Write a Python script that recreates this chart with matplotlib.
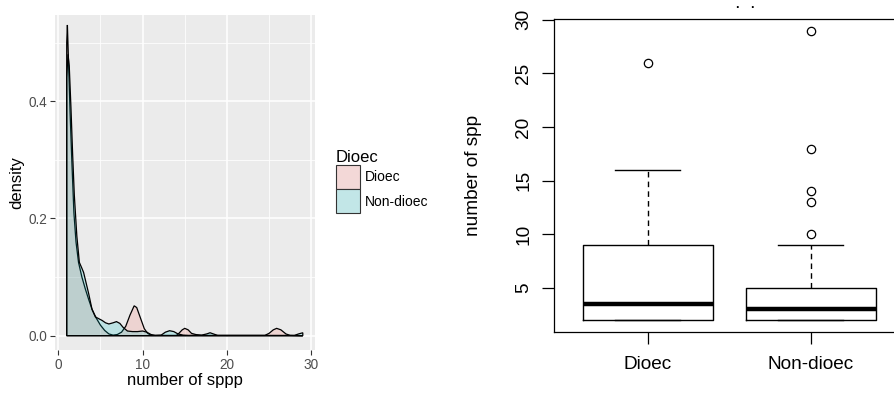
import matplotlib
matplotlib.use("Agg")
import matplotlib.pyplot as plt
from matplotlib.patches import Patch

plt.rcParams['font.family'] = ['Liberation Sans', 'DejaVu Sans']

# density curves
dioec_x = [1.0, 1.08, 1.25, 1.4, 1.6, 1.85, 2.1, 2.4, 2.8, 3.2, 3.6, 4.0, 4.5, 5.0, 5.5, 6.0,
           6.5, 7.0, 7.5, 8.0, 8.5, 9.0, 9.3, 9.7, 10.2, 10.6, 11.0, 14.0, 14.3, 14.7, 15.0,
           15.4, 15.8, 16.3, 17.0, 24.5, 25.0, 25.5, 25.9, 26.4, 27.0, 27.5, 29.0]
dioec_y = [0.50, 0.53, 0.45, 0.38, 0.30, 0.21, 0.16, 0.125, 0.10, 0.08, 0.062, 0.045, 0.03,
           0.018, 0.009, 0.003, 0.001, 0.002, 0.006, 0.016, 0.035, 0.051, 0.048, 0.032, 0.012,
           0.004, 0.0005, 0.0005, 0.004, 0.010, 0.0125, 0.010, 0.004, 0.002, 0.0005, 0.0005,
           0.004, 0.010, 0.0125, 0.010, 0.003, 0.0005, 0.0]

nondioec_x = [1.0, 1.15, 1.3, 1.5, 1.7, 1.9, 2.2, 2.5, 2.8, 3.0, 3.3, 3.6, 4.0, 4.4, 4.8, 5.2,
              5.6, 6.0, 6.5, 6.9, 7.3, 7.7, 8.2, 8.8, 9.4, 10.0, 10.5, 11.0, 11.5, 12.2, 12.7,
              13.2, 13.7, 14.2, 14.8, 15.5, 16.5, 17.0, 17.6, 18.0, 18.4, 18.9, 28.0, 28.5, 29.0]
nondioec_y = [0.44, 0.48, 0.46, 0.39, 0.31, 0.24, 0.17, 0.125, 0.115, 0.108, 0.09, 0.072, 0.045,
              0.032, 0.029, 0.026, 0.022, 0.020, 0.022, 0.024, 0.021, 0.014, 0.008, 0.007, 0.007,
              0.008, 0.006, 0.002, 0.0005, 0.001, 0.006, 0.0085, 0.007, 0.003, 0.001, 0.0005,
              0.001, 0.001, 0.003, 0.005, 0.003, 0.0005, 0.0005, 0.003, 0.005]

# boxplot summary
groups = ["Dioec", "Non-dioec"]
q1 = [2, 2]
med = [3.5, 3]
q3 = [9, 5]
whis_lo = [2, 2]
whis_hi = [16, 9]
outliers = [[26], [10, 13, 14, 18, 29]]

pink = (248/255, 118/255, 109/255)
teal = (0/255, 191/255, 196/255)

fig = plt.figure(figsize=(8.94, 3.94), dpi=100)

# ---- left: ggplot-like density ----
ax1 = fig.add_axes([55/894, 44/394, 259.6/894, 335/394])
ax1.set_facecolor('#EBEBEB')
for s in ax1.spines.values():
    s.set_visible(False)
ax1.set_xlim(-0.39, 30.4)
ax1.set_ylim(-0.0244, 0.547)
ax1.set_xticks([0, 10, 20, 30])
ax1.set_yticks([0.0, 0.2, 0.4])
ax1.set_yticklabels(['0.0', '0.2', '0.4'])
ax1.set_xticks([5, 15, 25], minor=True)
ax1.set_yticks([0.1, 0.3, 0.5], minor=True)
ax1.grid(which='major', color='white', lw=1.1)
ax1.grid(which='minor', color='white', lw=0.55)
ax1.set_axisbelow(True)
ax1.tick_params(which='major', colors='#333333', labelcolor='#4D4D4D', length=3.5,
                width=0.8, labelsize=9.8, pad=2)
ax1.tick_params(which='minor', length=0)

for xs, ys, c in [(dioec_x, dioec_y, pink), (nondioec_x, nondioec_y, teal)]:
    px = [xs[0]] + xs + [xs[-1]]
    py = [0] + ys + [0]
    ax1.fill(px, py, facecolor=c + (0.2,), edgecolor='black', lw=0.9)

ax1.set_xlabel('number of sppp', fontsize=12, va='center')
ax1.xaxis.set_label_coords(0.5, -0.0925)
ax1.set_ylabel('density', fontsize=12, va='center')
ax1.yaxis.set_label_coords(-0.148, 0.5)

handles = [Patch(facecolor='#F3D8D7', edgecolor='#333333', lw=0.8),
           Patch(facecolor='#C2E6E7', edgecolor='#333333', lw=0.8)]
fig.legend(handles, groups, title='Dioec', loc='upper left',
           bbox_to_anchor=(329/894, 1 - 143/394), frameon=False, fontsize=10,
           title_fontsize=12, alignment='left', handlelength=1.75, handleheight=2.3,
           labelspacing=0, borderpad=0, handletextpad=0.3)

# ---- right: base-R-like boxplot ----
ax2 = fig.add_axes([553.5/894, 62.3/394, 351.5/894, 312.7/394])
stats = []
for i in range(len(groups)):
    stats.append(dict(med=med[i], q1=q1[i], q3=q3[i], whislo=whis_lo[i],
                      whishi=whis_hi[i], fliers=outliers[i]))
ax2.bxp(stats, positions=[1, 2], widths=0.8, capwidths=0.4,
        boxprops=dict(color='black', lw=1.0),
        whiskerprops=dict(color='black', lw=1.0, linestyle=(0, (4, 3))),
        capprops=dict(color='black', lw=1.0),
        medianprops=dict(color='black', lw=3.2, solid_capstyle='butt'),
        flierprops=dict(marker='o', markerfacecolor='none', markeredgecolor='black',
                        markersize=6, markeredgewidth=0.9))
ax2.set_xlim(0.42, 2.58)
ax2.set_ylim(0.92, 30.08)
ax2.set_xticks([1, 2])
ax2.set_xticklabels(groups)
ax2.set_yticks([5, 10, 15, 20, 25, 30])
for s in ax2.spines.values():
    s.set_linewidth(0.9)
ax2.tick_params(axis='both', length=8.3, width=0.9, labelsize=13.7)
ax2.tick_params(axis='x', pad=9)
ax2.tick_params(axis='y', pad=7)
for lab in ax2.get_yticklabels():
    lab.set_rotation(90)
    lab.set_va('center')
ax2.set_ylabel('number of spp', fontsize=13.7, va='center')
ax2.yaxis.set_label_coords(-0.229, 0.5)

# clipped title remnants at the top
fig.text(737/894, 1 - 8/394, '\u00b7', fontsize=9, fontweight='bold', ha='center', va='center')
fig.text(752/894, 1 - 8/394, '\u00b7', fontsize=9, fontweight='bold', ha='center', va='center')

fig.savefig('out.png', dpi=100)
